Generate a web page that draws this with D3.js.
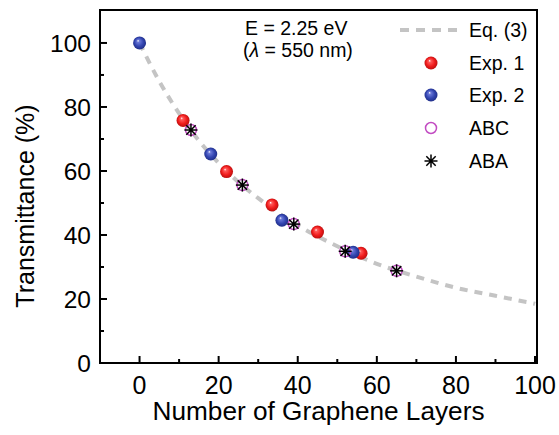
<!DOCTYPE html>
<html>
<head>
<meta charset="utf-8">
<script src="https://cdn.jsdelivr.net/npm/d3@7"></script>
<style>
  body { margin: 0; background: #fff; }
  svg { font-family: "Liberation Sans", Arial, sans-serif; }
</style>
</head>
<body>
<svg id="chart" width="559" height="435"></svg>
<script>
// values
var eqLayers = [0, 5, 10, 15, 20, 25, 30, 40, 50, 60, 70, 80, 90, 100];
var eqTrans  = [100, 88, 78, 69.5, 62.5, 56.5, 51.5, 43, 36.5, 31, 27, 23.5, 21, 18.5];

var exp1Layers = [11, 22, 33.5, 45, 56];
var exp1Trans  = [75.8, 59.8, 49.4, 40.9, 34.3];

var exp2Layers = [0, 18, 36, 54];
var exp2Trans  = [100, 65.3, 44.6, 34.6];

var abcLayers = [13, 26, 39, 52, 65];
var abcTrans  = [72.8, 55.6, 43.4, 34.9, 28.8];

var abaLayers = [13, 26, 39, 52, 65];
var abaTrans  = [72.8, 55.6, 43.4, 34.9, 28.8];

var xTicks = [0, 20, 40, 60, 80, 100];
var yTicks = [0, 20, 40, 60, 80, 100];

var legendLabels = ["Eq. (3)", "Exp. 1", "Exp. 2", "ABC", "ABA"];

var svg = d3.select("#chart");
var margin = {top: 10, right: 22, bottom: 72, left: 100};
var width = 559 - margin.left - margin.right;
var height = 435 - margin.top - margin.bottom;

var x = d3.scaleLinear().domain([-10, 100.5]).range([0, width]);
var y = d3.scaleLinear().domain([0, 110.3]).range([height, 0]);

function zip(a, b) { return a.map(function(v, i) { return {n: v, t: b[i]}; }); }

// sphere gradients
var defs = svg.append("defs");
function sphere(id, light, base, dark) {
  var g = defs.append("radialGradient").attr("id", id)
    .attr("cx", "50%").attr("cy", "50%").attr("r", "55%")
    .attr("fx", "38%").attr("fy", "32%");
  g.append("stop").attr("offset", "0%").attr("stop-color", "#fff");
  g.append("stop").attr("offset", "18%").attr("stop-color", light);
  g.append("stop").attr("offset", "60%").attr("stop-color", base);
  g.append("stop").attr("offset", "100%").attr("stop-color", dark);
}
sphere("redBall", "#ff5a5a", "#f01c1c", "#b00c0c");
sphere("blueBall", "#6a78d8", "#3345b0", "#1c2a80");

defs.append("clipPath").attr("id", "plotClip")
  .append("rect").attr("width", width).attr("height", height);

var g = svg.append("g").attr("transform", "translate(" + margin.left + "," + margin.top + ")");

// axes with inward ticks
var xMinor = d3.range(-10, 101, 10);
var yMinor = d3.range(10, 110, 10);

g.selectAll(".xminor").data(xMinor).enter().append("line")
  .attr("x1", function(d) { return x(d); }).attr("x2", function(d) { return x(d); })
  .attr("y1", height).attr("y2", function(d) { return xTicks.indexOf(d) >= 0 ? height - 7 : height - 4; })
  .attr("stroke", "#000").attr("stroke-width", 2);

g.selectAll(".yminor").data(yMinor).enter().append("line")
  .attr("y1", function(d) { return y(d); }).attr("y2", function(d) { return y(d); })
  .attr("x1", 0).attr("x2", function(d) { return yTicks.indexOf(d) >= 0 ? 7 : 4; })
  .attr("stroke", "#000").attr("stroke-width", 2);

g.selectAll(".xlab").data(xTicks).enter().append("text")
  .attr("x", function(d) { return x(d); })
  .attr("y", height + 31)
  .attr("text-anchor", "middle")
  .attr("font-size", 25)
  .text(function(d) { return d; });

g.selectAll(".ylab").data(yTicks).enter().append("text")
  .attr("x", -9)
  .attr("y", function(d) { return y(d); })
  .attr("dy", "0.35em")
  .attr("text-anchor", "end")
  .attr("font-size", 24.5)
  .text(function(d) { return d; });

g.append("rect")
  .attr("width", width).attr("height", height)
  .attr("fill", "none").attr("stroke", "#000").attr("stroke-width", 2);

svg.append("text")
  .attr("x", margin.left + width / 2)
  .attr("y", 420)
  .attr("text-anchor", "middle")
  .attr("font-size", 25)
  .attr("textLength", 332)
  .attr("lengthAdjust", "spacingAndGlyphs")
  .text("Number of Graphene Layers");

svg.append("text")
  .attr("transform", "translate(34,206) rotate(-90)")
  .attr("text-anchor", "middle")
  .attr("font-size", 25)
  .text("Transmittance (%)");

// Eq. (3) curve
var line = d3.line()
  .x(function(d) { return x(d.n); })
  .y(function(d) { return y(d.t); })
  .curve(d3.curveMonotoneX);

g.append("path")
  .datum(zip(eqLayers, eqTrans))
  .attr("clip-path", "url(#plotClip)")
  .attr("fill", "none")
  .attr("stroke", "#c4c4c4")
  .attr("stroke-width", 4)
  .attr("stroke-dasharray", "8,7")
  .attr("d", line);

function drawBalls(data, fill) {
  g.selectAll(null).data(data).enter().append("circle")
    .attr("cx", function(d) { return x(d.n); })
    .attr("cy", function(d) { return y(d.t); })
    .attr("r", 6.5)
    .attr("fill", fill);
}
drawBalls(zip(exp1Layers, exp1Trans), "url(#redBall)");
drawBalls(zip(exp2Layers, exp2Trans), "url(#blueBall)");

function drawRing(sel) {
  sel.append("circle").attr("r", 5.5)
    .attr("fill", "none").attr("stroke", "#c24cc2").attr("stroke-width", 1.5);
}
function drawStar(sel) {
  var s = 6.5, d = s * 0.72;
  var segs = [[-s, 0, s, 0], [0, -s, 0, s], [-d, -d, d, d], [-d, d, d, -d]];
  segs.forEach(function(p) {
    sel.append("line").attr("x1", p[0]).attr("y1", p[1]).attr("x2", p[2]).attr("y2", p[3])
      .attr("stroke", "#000").attr("stroke-width", 1.5);
  });
  sel.append("circle").attr("r", 1.8).attr("fill", "#000");
}

g.selectAll(".abc").data(zip(abcLayers, abcTrans)).enter().append("g")
  .attr("transform", function(d) { return "translate(" + x(d.n) + "," + y(d.t) + ")"; })
  .each(function() { drawRing(d3.select(this)); });

g.selectAll(".aba").data(zip(abaLayers, abaTrans)).enter().append("g")
  .attr("transform", function(d) { return "translate(" + x(d.n) + "," + y(d.t) + ")"; })
  .each(function() { drawStar(d3.select(this)); });

// annotation
var note = svg.append("text").attr("font-size", 19.5);
note.append("tspan").attr("x", 245).attr("y", 35).text("E = 2.25 eV");
var l2 = note.append("tspan").attr("x", 243).attr("y", 57);
l2.append("tspan").text("(");
l2.append("tspan").attr("font-style", "italic").text("λ");
l2.append("tspan").text(" = 550 nm)");

// legend
var legX = 431, legTextX = 469;
var legY = [30, 63, 95, 128, 161];

svg.append("line")
  .attr("x1", 400).attr("x2", 459).attr("y1", legY[0]).attr("y2", legY[0])
  .attr("stroke", "#c4c4c4").attr("stroke-width", 4).attr("stroke-dasharray", "9,7");

svg.append("circle").attr("cx", legX).attr("cy", legY[1]).attr("r", 6.5).attr("fill", "url(#redBall)");
svg.append("circle").attr("cx", legX).attr("cy", legY[2]).attr("r", 6.5).attr("fill", "url(#blueBall)");
drawRing(svg.append("g").attr("transform", "translate(" + legX + "," + legY[3] + ")"));
drawStar(svg.append("g").attr("transform", "translate(" + legX + "," + legY[4] + ")"));

svg.selectAll(".legtext").data(legendLabels).enter().append("text")
  .attr("x", legTextX)
  .attr("y", function(d, i) { return legY[i]; })
  .attr("dy", "0.36em")
  .attr("font-size", 19.5)
  .text(function(d) { return d; });
</script>
</body>
</html>
